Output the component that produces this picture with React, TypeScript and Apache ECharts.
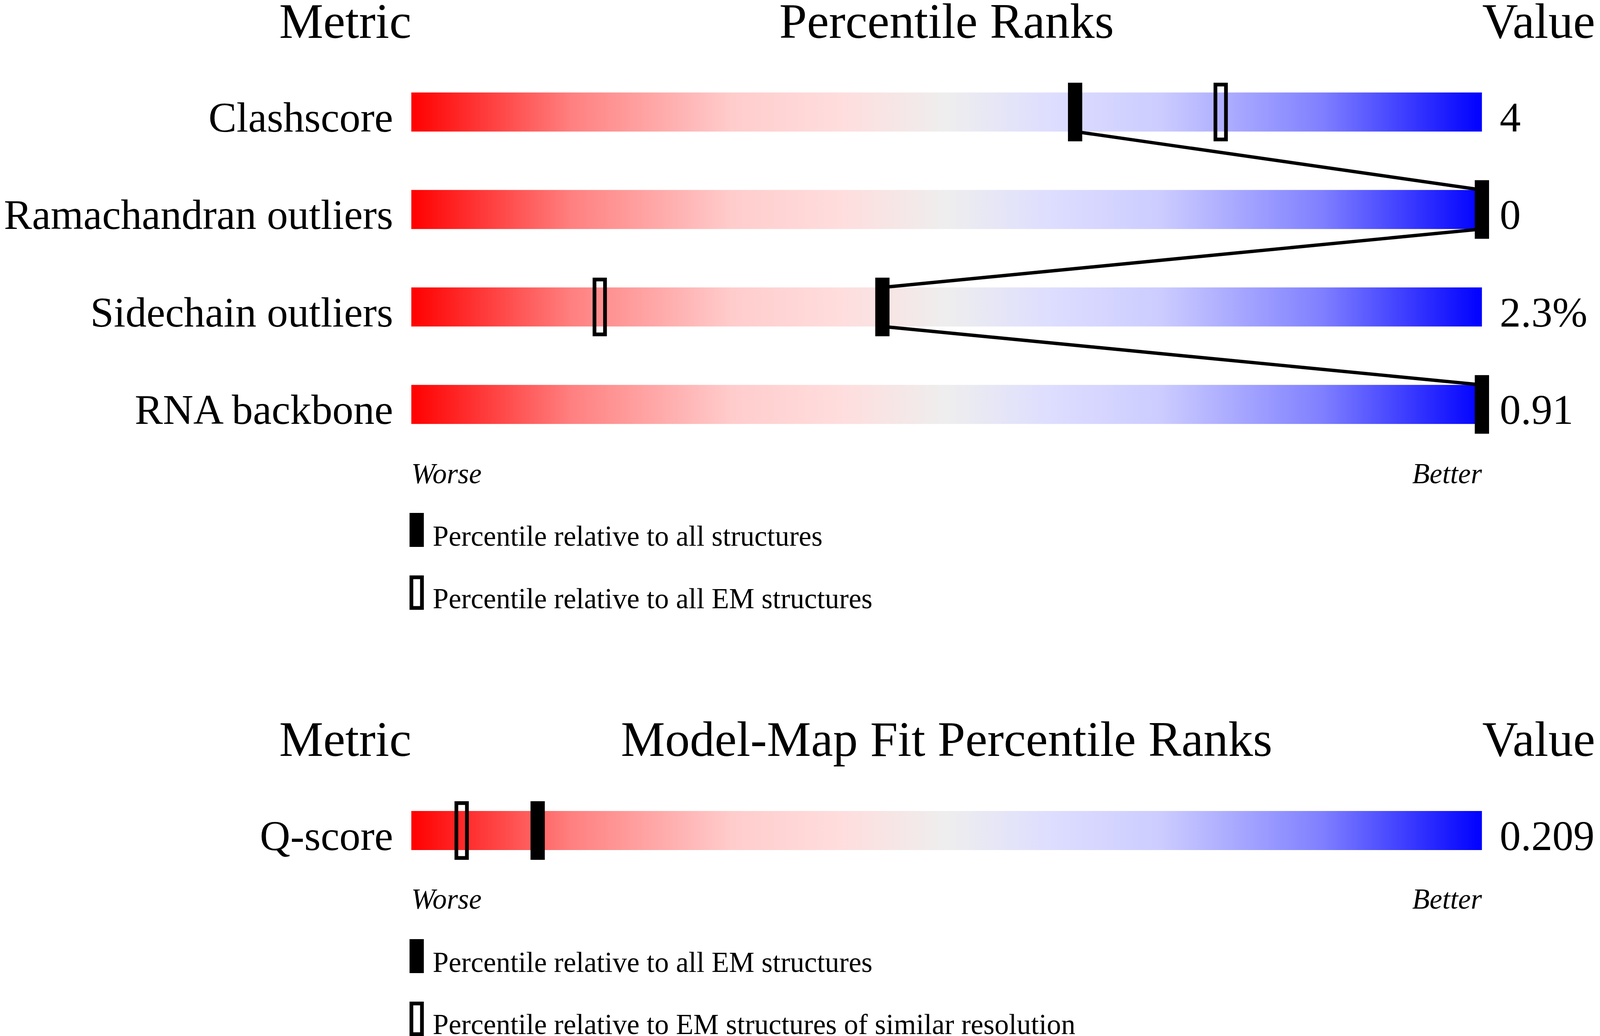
import React, { useEffect, useRef } from 'react';
import * as echarts from 'echarts';

// ---------- data ----------
const metrics = ['Clashscore', 'Ramachandran outliers', 'Sidechain outliers', 'RNA backbone'];
const metricValues = ['4', '0', '2.3%', '0.91'];
const pctAll = [62, 100, 44, 100];
const pctEM: (number | null)[] = [75.6, null, 17.6, null];

const fitMetrics = ['Q-score'];
const fitValues = ['0.209'];
const fitPctEM = [11.8];
const fitPctSimilarRes: (number | null)[] = [4.7];

const headers1 = ['Metric', 'Percentile Ranks', 'Value'];
const headers2 = ['Metric', 'Model-Map Fit Percentile Ranks', 'Value'];
const scaleEnds = ['Worse', 'Better'];
const legend1 = ['Percentile relative to all structures', 'Percentile relative to all EM structures'];
const legend2 = ['Percentile relative to all EM structures', 'Percentile relative to EM structures of similar resolution'];

// ---------- style (design units: 4485 x 2652) ----------
const W = 4485;
const H = 2652;
const FONT = '"Liberation Serif", "Times New Roman", serif';
const BAR_L = 1153;
const BAR_R = 4154;
const BAR_H = 100;
const MARK_W = 40;
const MARK_H = 150;
const OPEN_LW = 10;
const LABEL_SIZE = 118;
const CENTRAL = 0.3375; // central baseline offset (em)

const gradientStops = [
  { offset: 0, color: '#ff0000' },
  { offset: 0.15, color: '#ff8080' },
  { offset: 0.3, color: '#ffcccc' },
  { offset: 0.4, color: '#ffdddd' },
  { offset: 0.5, color: '#eeeeee' },
  { offset: 0.6, color: '#ddddff' },
  { offset: 0.7, color: '#ccccff' },
  { offset: 0.85, color: '#8080ff' },
  { offset: 1, color: '#0000ff' },
];

function buildOption(kx: number, ky: number) {
  const sx = (v: number) => v * kx;
  const sy = (v: number) => v * ky;
  const sf = (v: number) => v * kx; // font sizes follow horizontal scale so widths fit
  const sl = (v: number) => v * (kx + ky) / 2;

  const txt = (text: string, x: number, baseline: number, size: number, align: string, italic = false) => ({
    type: 'text',
    silent: true,
    style: {
      text,
      x: sx(x),
      y: sy(baseline) - CENTRAL * sf(size),
      fontSize: sf(size),
      fontFamily: FONT,
      fontStyle: italic ? 'italic' : 'normal',
      fill: '#000',
      align,
      verticalAlign: 'middle',
    },
  });

  const legendRect = (y: number, filled: boolean) =>
    filled
      ? { type: 'rect', silent: true, shape: { x: sx(1148), y: sy(y), width: sx(MARK_W), height: sy(87) }, style: { fill: '#000' } }
      : {
          type: 'rect',
          silent: true,
          shape: {
            x: sx(1148) + sl(OPEN_LW) / 2,
            y: sy(y) + sl(OPEN_LW) / 2,
            width: sx(MARK_W) - sl(OPEN_LW),
            height: sy(88) - sl(OPEN_LW),
          },
          style: { fill: 'none', stroke: '#000', lineWidth: sl(OPEN_LW) },
        };

  const barSeries = (xi: number, yi: number, rows: string[]) => ({
    type: 'custom',
    xAxisIndex: xi,
    yAxisIndex: yi,
    silent: true,
    z: 1,
    encode: { x: 0, y: 1 },
    data: rows.map((_, i) => [0, i]),
    renderItem: (params: any, api: any) => {
      const row = api.value(1);
      const a = api.coord([0, row]);
      const b = api.coord([100, row]);
      return {
        type: 'rect',
        shape: { x: a[0], y: a[1] - sy(BAR_H) / 2, width: b[0] - a[0], height: sy(BAR_H) },
        style: { fill: new echarts.graphic.LinearGradient(0, 0, 1, 0, gradientStops) },
      };
    },
  });

  const markers = (xi: number, yi: number, pct: (number | null)[], filled: boolean) => ({
    type: 'custom',
    xAxisIndex: xi,
    yAxisIndex: yi,
    silent: true,
    clip: false,
    z: 5,
    encode: { x: 0, y: 1 },
    data: pct.map((p, i) => (p == null ? null : [p, i])).filter((d) => d),
    renderItem: (params: any, api: any) => {
      const c = api.coord([api.value(0), api.value(1)]);
      if (filled) {
        return {
          type: 'rect',
          shape: { x: c[0] - sx(MARK_W) / 2, y: c[1] - sy(MARK_H) / 2, width: sx(MARK_W), height: sy(MARK_H) },
          style: { fill: '#000' },
        };
      }
      const lw = sl(OPEN_LW);
      const w = sx(MARK_W) - lw;
      const h = sy(MARK_H) - lw;
      return {
        type: 'rect',
        shape: { x: c[0] - w / 2, y: c[1] - h / 2, width: w, height: h },
        style: { fill: 'none', stroke: '#000', lineWidth: lw },
      };
    },
  });

  const connectorSeries = (xi: number, yi: number, pct: number[]) => ({
    type: 'custom',
    xAxisIndex: xi,
    yAxisIndex: yi,
    silent: true,
    clip: false,
    z: 3,
    encode: { x: [0, 2], y: [1, 3] },
    data: pct.slice(0, -1).map((p, i) => [p, i, pct[i + 1], i + 1]),
    renderItem: (params: any, api: any) => {
      const p1 = api.coord([api.value(0), api.value(1)]);
      const p2 = api.coord([api.value(2), api.value(3)]);
      return {
        type: 'line',
        shape: { x1: p1[0], y1: p1[1] + sy(BAR_H) / 2, x2: p2[0], y2: p2[1] - sy(BAR_H) / 2 },
        style: { stroke: '#000', lineWidth: sl(9), lineCap: 'butt' },
      };
    },
  });

  // label baseline sits on the bar's bottom edge
  const labelLineHeight = Math.max(1, 2 * (sy(BAR_H / 2) - CENTRAL * sf(LABEL_SIZE)));

  const catAxis = (gi: number, rows: string[], pos: 'left' | 'right', margin: number) => ({
    type: 'category',
    gridIndex: gi,
    position: pos,
    inverse: true,
    data: rows,
    axisLine: { show: false },
    axisTick: { show: false },
    splitLine: { show: false },
    axisLabel: {
      interval: 0,
      margin: sx(margin),
      fontSize: sf(LABEL_SIZE),
      fontFamily: FONT,
      color: '#000',
      verticalAlign: 'top',
      lineHeight: labelLineHeight,
    },
  });

  const valAxis = (gi: number) => ({ type: 'value', gridIndex: gi, min: 0, max: 100, show: false });

  return {
    animation: false,
    backgroundColor: '#ffffff',
    grid: [
      { left: sx(BAR_L), width: sx(BAR_R - BAR_L), top: sy(162), height: sy(998) },
      { left: sx(BAR_L), width: sx(BAR_R - BAR_L), top: sy(2026), height: sy(200) },
    ],
    xAxis: [valAxis(0), valAxis(1)],
    yAxis: [
      catAxis(0, metrics, 'left', 51),
      catAxis(0, metricValues, 'right', 50),
      catAxis(1, fitMetrics, 'left', 51),
      catAxis(1, fitValues, 'right', 50),
    ],
    series: [
      barSeries(0, 0, metrics),
      connectorSeries(0, 0, pctAll),
      markers(0, 0, pctEM, false),
      markers(0, 0, pctAll, true),
      barSeries(1, 2, fitMetrics),
      markers(1, 2, fitPctSimilarRes, false),
      markers(1, 2, fitPctEM, true),
    ],
    graphic: [
      txt(headers1[0], BAR_L, 97, 139, 'right'),
      txt(headers1[1], (BAR_L + BAR_R) / 2, 97, 139, 'center'),
      txt(headers1[2], BAR_R + 1, 97, 139, 'left'),
      txt(scaleEnds[0], BAR_L, 1237, 80, 'left', true),
      txt(scaleEnds[1], BAR_R, 1237, 80, 'right', true),
      legendRect(1313, true),
      txt(legend1[0], 1213, 1397, 80, 'left'),
      legendRect(1473, false),
      txt(legend1[1], 1213, 1557, 80, 'left'),
      txt(headers2[0], BAR_L, 1935, 139, 'right'),
      txt(headers2[1], (BAR_L + BAR_R) / 2, 1935, 139, 'center'),
      txt(headers2[2], BAR_R + 1, 1935, 139, 'left'),
      txt(scaleEnds[0], BAR_L, 2326, 80, 'left', true),
      txt(scaleEnds[1], BAR_R, 2326, 80, 'right', true),
      legendRect(2404, true),
      txt(legend2[0], 1213, 2488, 80, 'left'),
      legendRect(2564, false),
      txt(legend2[1], 1213, 2647, 80, 'left'),
    ],
  };
}

export default function App() {
  const ref = useRef<HTMLDivElement>(null);
  useEffect(() => {
    const el = ref.current;
    if (!el) return;
    const cw = el.clientWidth || window.innerWidth || W;
    const ch = el.clientHeight || window.innerHeight || H;
    const kx = cw / W;
    const ky = ch / H;
    const chart = echarts.init(el, null, { renderer: 'svg', width: cw, height: ch });
    chart.setOption(buildOption(kx, ky) as any);
    return () => chart.dispose();
  }, []);
  return (
    <div
      ref={ref}
      style={{ position: 'fixed', left: 0, top: 0, width: '100vw', height: '100vh', background: '#fff', overflow: 'hidden' }}
    />
  );
}
